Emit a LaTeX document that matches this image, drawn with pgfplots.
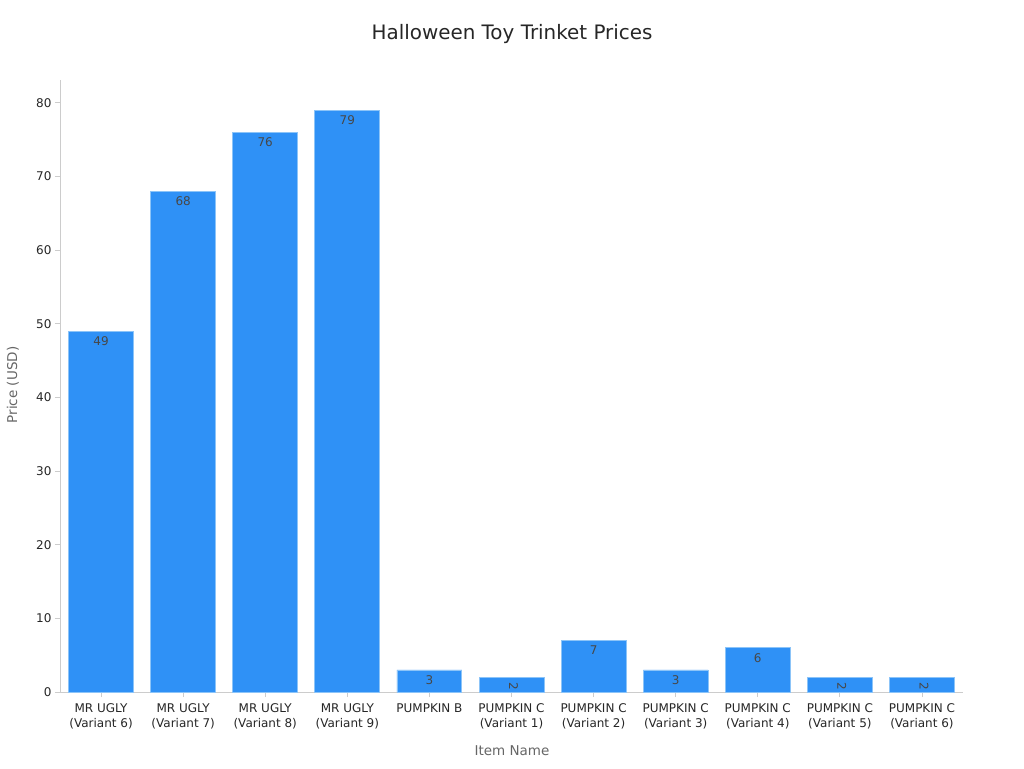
\documentclass[border=0pt]{standalone}
\usepackage{pgfplots}
\pgfplotsset{compat=1.18}
\usepackage{fontspec}
\setmainfont{DejaVu Sans}
\definecolor{barfill}{HTML}{2F91F6}
\definecolor{baredge}{HTML}{8CC4F8}
\definecolor{axgray}{HTML}{CCCCCC}
\definecolor{txt}{HTML}{262626}
\definecolor{lbl}{HTML}{666666}
\begin{document}
\begin{tikzpicture}[x=1pt,y=1pt]
\useasboundingbox (0,0) rectangle (1024,768);
\node[font=\fontsize{19.9}{23}\selectfont, text=txt] at (512,734) {Halloween Toy Trinket Prices};
\node[font=\fontsize{13.5}{16}\selectfont, text=lbl] at (512,17) {Item Name};
\node[font=\fontsize{13.5}{16}\selectfont, text=lbl, rotate=90] at (13,383) {Price (USD)};
\begin{axis}[
  at={(60pt,76pt)}, anchor=south west,
  scale only axis, width=903pt, height=612pt,
  xmin=-0.5, xmax=10.5, ymin=0, ymax=83.1,
  axis x line*=bottom, axis y line*=left,
  axis line style={axgray, line width=0.8pt},
  every tick/.style={axgray, line width=0.8pt},
  tick align=outside, major tick length=5pt,
  xtick={0,...,10}, ytick={0,10,...,80},
  xticklabels={{MR UGLY\\(Variant 6)},{MR UGLY\\(Variant 7)},{MR UGLY\\(Variant 8)},{MR UGLY\\(Variant 9)},{PUMPKIN B},{PUMPKIN C\\(Variant 1)},{PUMPKIN C\\(Variant 2)},{PUMPKIN C\\(Variant 3)},{PUMPKIN C\\(Variant 4)},{PUMPKIN C\\(Variant 5)},{PUMPKIN C\\(Variant 6)}},
  xticklabel style={align=center, font=\fontsize{12}{15}\selectfont, text=txt, anchor=north, yshift=-3pt},
  yticklabel style={font=\fontsize{12}{15}\selectfont, text=txt},
  /pgf/number format/assume math mode=true,
  ybar, bar width=0.79,
  nodes near coords,
  every node near coord/.append style={font=\fontsize{12}{14}\selectfont, text=txt!85, anchor=north, yshift=-2pt},
  clip=false,
]
\addplot[fill=barfill, draw=baredge, line width=0.8pt, bar shift=0pt] coordinates {(0,49) (1,68) (2,76) (3,79) (4,3) (6,7) (7,3) (8,6)};
\addplot[fill=barfill, draw=baredge, line width=0.8pt, bar shift=0pt,
  every node near coord/.append style={rotate=-90, anchor=center, yshift=2pt, xshift=7pt}] coordinates {(5,2) (9,2) (10,2)};
\end{axis}
\end{tikzpicture}
\end{document}
